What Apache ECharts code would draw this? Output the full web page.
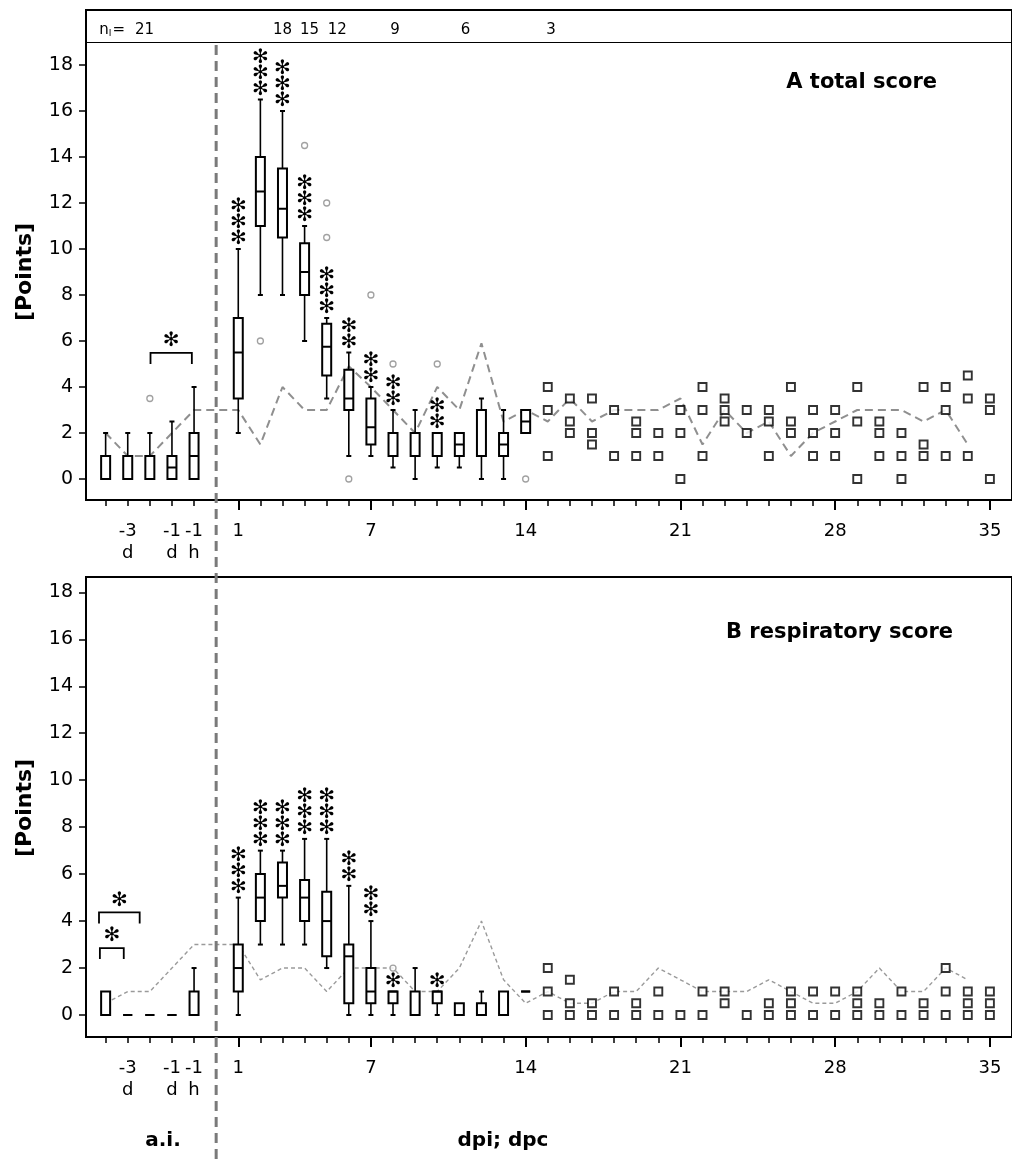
<!DOCTYPE html>
<html><head><meta charset="utf-8">
<script src="https://cdn.jsdelivr.net/npm/echarts@6/dist/echarts.min.js"></script>
<style>html,body{margin:0;padding:0;background:#fff}#c{width:1012px;height:1161px}</style>
</head><body><div id="c"></div>
<script>
// ================= DATA =================
// x positions: pre-infection slots -5..-1, days after infection 1..35
const preLabelPos = [-4, -2, -1];
const preLabels = ['-3\nd', '-1\nd', '-1\nh'];
const dayTicks = [1, 7, 14, 21, 28, 35];
const yTicks = [0, 2, 4, 6, 8, 10, 12, 14, 16, 18];

// ---- Panel A: total score ----
const boxPosA = [-5, -4, -3, -2, -1, 1, 2, 3, 4, 5, 6, 7, 8, 9, 10, 11, 12, 13, 14];
const boxMinA = [0, 0, 0, 0, 0, 2, 8, 8, 6, 3.5, 1, 1, 0.5, 0, 0.5, 0.5, 0, 0, 2];
const boxQ1A  = [0, 0, 0, 0, 0, 3.5, 11, 10.5, 8, 4.5, 3, 1.5, 1, 1, 1, 1, 1, 1, 2];
const boxMedA = [0, 0, 0, 0.5, 1, 5.5, 12.5, 11.75, 9, 5.75, 3.5, 2.25, 2, 1, 1, 1.5, 1, 1.5, 2.5];
const boxQ3A  = [1, 1, 1, 1, 2, 7, 14, 13.5, 10.25, 6.75, 4.75, 3.5, 2, 2, 2, 2, 3, 2, 3];
const boxMaxA = [2, 2, 2, 2.5, 4, 10, 16.5, 16, 11, 7, 5.5, 4, 3, 3, 2, 2, 3.5, 3, 3];
const sigA    = [0, 0, 0, 0, 0, 3, 3, 3, 3, 3, 2, 2, 2, 0, 2, 0, 0, 0, 0];
const outA = [[-3, 3.5], [2, 6], [4, 14.5], [5, 12], [5, 10.5], [6, 0], [7, 8], [8, 5], [10, 5], [14, 0]];
const sqDays = [15, 16, 17, 18, 19, 20, 21, 22, 23, 24, 25, 26, 27, 28, 29, 30, 31, 32, 33, 34, 35];
const sqValsA = [[4, 3, 1], [3.5, 2.5, 2], [3.5, 2, 1.5], [3, 1], [2.5, 2, 1], [2, 1], [3, 2, 0], [4, 3, 1],
  [3.5, 3, 2.5], [3, 2], [3, 2.5, 1], [4, 2.5, 2], [3, 2, 1], [3, 2, 1], [4, 2.5, 0], [2.5, 2, 1], [2, 1, 0],
  [4, 1.5, 1], [4, 3, 1], [4.5, 3.5, 1], [3.5, 3, 0]];
const lineX = [-5, -4, -3, -2, -1, 1, 2, 3, 4, 5, 6, 7, 8, 9, 10, 11, 12, 13, 14, 15, 16, 17, 18, 19, 20,
  21, 22, 23, 24, 25, 26, 27, 28, 29, 30, 31, 32, 33, 34];
const lineA = [2, 1, 1, 2, 3, 3, 1.5, 4, 3, 3, 4.9, 4, 3, 2, 4, 3, 5.9, 2.5, 3, 2.5, 3.5, 2.5, 3, 3, 3,
  3.5, 1.5, 3, 2, 2.5, 1, 2, 2.5, 3, 3, 3, 2.5, 3, 1.5];
const bracketsA = [[-2.97, -1.1, 5.48]];
const niPos = [-3.24, 3, 4.22, 5.48, 8.09, 11.28, 15.15];
const niText = ['21', '18', '15', '12', '9', '6', '3'];

// ---- Panel B: respiratory score ----
const boxPosB = [-5, -4, -3, -2, -1, 1, 2, 3, 4, 5, 6, 7, 8, 9, 10, 11, 12, 13, 14];
const boxMinB = [0, 0, 0, 0, 0, 0, 3, 3, 3, 2, 0, 0, 0, 0, 0, 0, 0, 0, 1];
const boxQ1B  = [0, 0, 0, 0, 0, 1, 4, 5, 4, 2.5, 0.5, 0.5, 0.5, 0, 0.5, 0, 0, 0, 1];
const boxMedB = [0, 0, 0, 0, 0, 2, 5, 5.5, 5, 4, 2.5, 1, 1, 0, 1, 0, 0, 0, 1];
const boxQ3B  = [1, 0, 0, 0, 1, 3, 6, 6.5, 5.75, 5.25, 3, 2, 1, 1, 1, 0.5, 0.5, 1, 1];
const boxMaxB = [1, 0, 0, 0, 2, 5, 7, 7, 7.5, 7.5, 5.5, 4, 1, 2, 1, 0.5, 1, 1, 1];
const sigB    = [0, 0, 0, 0, 0, 3, 3, 3, 3, 3, 2, 2, 1, 0, 1, 0, 0, 0, 0];
const outB = [[8, 2]];
const sqValsB = [[2, 1, 0], [1.5, 0.5, 0], [0.5, 0], [1, 0], [0.5, 0], [1, 0], [0], [1, 0], [1, 0.5], [0],
  [0.5, 0], [1, 0.5, 0], [1, 0], [1, 0], [1, 0.5, 0], [0.5, 0], [1, 0], [0.5, 0], [2, 1, 0], [1, 0.5, 0], [1, 0.5, 0]];
const lineB = [0.5, 1, 1, 2, 3, 3, 1.5, 2, 2, 1, 2, 2, 2, 1, 1, 2, 4, 1.5, 0.5, 1, 0.5, 0.5, 1, 1, 2,
  1.5, 1, 1, 1, 1.5, 1, 0.5, 0.5, 1, 2, 1, 1, 2, 1.5];
const bracketsB = [[-5.30, -3.46, 4.37], [-5.26, -4.18, 2.85]];

// ================= CHART =================
const FONT = 'DejaVu Sans';
const STAR = '\u273B';
const X_MIN = -5.888, X_MAX = 36.0;
const NI_Y = 19.52, NI_LINE = 18.97;

const chart = echarts.init(document.getElementById('c'), null, { renderer: 'canvas' });

function boxRows(p, a, b, c, d, e, s) { return p.map((x, i) => [x, a[i], b[i], c[i], d[i], e[i], s[i]]); }
function sqRows(vals) { const r = []; sqDays.forEach((d, i) => vals[i].forEach(v => r.push([d, v]))); return r; }
function lineRows(vals) { return lineX.map((x, i) => [x, vals[i]]); }

function starText(x, y) {
  return { type: 'text', x: x, y: y, style: { text: STAR, fill: '#000', font: 'bold 20px "' + FONT + '"', align: 'center', verticalAlign: 'middle' } };
}

function renderBox(params, api) {
  const x = api.value(0), sig = api.value(6);
  const ys = [1, 2, 3, 4, 5].map(i => api.coord([x, api.value(i)])[1]);
  const cx = api.coord([x, 0])[0];
  const yMin = ys[0], yQ1 = ys[1], yMed = ys[2], yQ3 = ys[3], yMax = ys[4];
  const hw = 4.5, cw = 2.5;
  const ws = { stroke: '#000', lineWidth: 1.6 };
  const ch = [];
  if (yMax < yQ3 - 0.5) {
    ch.push({ type: 'line', shape: { x1: cx, y1: yQ3, x2: cx, y2: yMax }, style: ws });
    ch.push({ type: 'line', shape: { x1: cx - cw, y1: yMax, x2: cx + cw, y2: yMax }, style: { stroke: '#000', lineWidth: 2 } });
  }
  if (yMin > yQ1 + 0.5) {
    ch.push({ type: 'line', shape: { x1: cx, y1: yQ1, x2: cx, y2: yMin }, style: ws });
    ch.push({ type: 'line', shape: { x1: cx - cw, y1: yMin, x2: cx + cw, y2: yMin }, style: { stroke: '#000', lineWidth: 2 } });
  }
  ch.push({ type: 'rect', shape: { x: cx - hw, y: yQ3, width: 2 * hw, height: Math.max(yQ1 - yQ3, 0) }, style: { fill: '#fff', stroke: '#000', lineWidth: 2 } });
  ch.push({ type: 'line', shape: { x1: cx - hw, y1: yMed, x2: cx + hw, y2: yMed }, style: { stroke: '#000', lineWidth: 2 } });
  for (let i = 0; i < sig; i++) ch.push(starText(cx, yMax - 10 - i * 16));
  return { type: 'group', children: ch };
}

function renderBracket(params, api) {
  const a = api.coord([api.value(0), api.value(2)]);
  const b = api.coord([api.value(1), api.value(2)]);
  const leg = 11;
  return { type: 'group', children: [
    { type: 'polyline', shape: { points: [[a[0], a[1] + leg], [a[0], a[1]], [b[0], b[1]], [b[0], b[1] + leg]] }, style: { stroke: '#000', lineWidth: 1.8, fill: null } },
    starText((a[0] + b[0]) / 2, a[1] - 12)
  ] };
}

function renderNi(params, api) {
  const p = api.coord([api.value(0), NI_Y]);
  return { type: 'text', x: p[0], y: p[1], style: { text: niText[api.value(1)], fill: '#000', font: '15px "' + FONT + '"', align: 'center', verticalAlign: 'middle' } };
}

const xTickAll = [];
for (let i = -5; i <= 35; i++) if (i !== 0) xTickAll.push(i);
const labelMap = {};
preLabelPos.forEach((p, i) => labelMap[p] = preLabels[i]);

function xAxesFor(gi) {
  return [
    { type: 'value', gridIndex: gi, min: X_MIN, max: X_MAX, position: 'bottom',
      axisLine: { show: false, onZero: false }, splitLine: { show: false },
      axisTick: { show: true, customValues: xTickAll, length: 6, lineStyle: { color: '#000', width: 1.5 } },
      axisLabel: { show: false } },
    { type: 'value', gridIndex: gi, min: X_MIN, max: X_MAX, position: 'bottom',
      axisLine: { show: false, onZero: false }, splitLine: { show: false },
      axisTick: { show: true, customValues: dayTicks, length: 10, lineStyle: { color: '#000', width: 2 } },
      axisLabel: { show: true, customValues: preLabelPos.concat(dayTicks), fontFamily: FONT, fontSize: 18, color: '#000',
        lineHeight: 22, margin: 20, formatter: v => (labelMap[v] !== undefined ? labelMap[v] : String(v)) } }
  ];
}
function yAxisFor(gi, mn, mx) {
  return { type: 'value', gridIndex: gi, min: mn, max: mx,
    axisLine: { show: true, onZero: false, lineStyle: { color: '#000', width: 2 } }, splitLine: { show: false },
    axisTick: { show: true, customValues: yTicks, length: 7, lineStyle: { color: '#000', width: 1.5 } },
    axisLabel: { show: true, customValues: yTicks, fontFamily: FONT, fontSize: 19, color: '#000', margin: 13 } };
}

function panelSeries(xi, yi, boxes, outs, sqs, line, brackets, lineStyle, extra) {
  const s = [
    { type: 'line', xAxisIndex: xi, yAxisIndex: yi, data: line, symbol: 'none', silent: true, z: 2,
      lineStyle: lineStyle, markLine: extra },
    { type: 'custom', xAxisIndex: xi, yAxisIndex: yi, renderItem: renderBox, data: boxes, z: 3,
      encode: { x: 0, y: [1, 2, 3, 4, 5] } },
    { type: 'scatter', xAxisIndex: xi, yAxisIndex: yi, data: sqs, symbol: 'rect', symbolSize: 8, z: 4,
      itemStyle: { color: '#fff', borderColor: '#000', borderWidth: 1.9 } },
    { type: 'scatter', xAxisIndex: xi, yAxisIndex: yi, data: outs, symbol: 'circle', symbolSize: 6, z: 4,
      itemStyle: { color: '#fff', borderColor: '#8a8a8a', borderWidth: 1.3 } },
    { type: 'custom', xAxisIndex: xi, yAxisIndex: yi, renderItem: renderBracket, data: brackets, z: 4 }
  ];
  if (!extra) delete s[0].markLine;
  return s;
}

const seriesA = panelSeries(0, 0, boxRows(boxPosA, boxMinA, boxQ1A, boxMedA, boxQ3A, boxMaxA, sigA), outA,
  sqRows(sqValsA), lineRows(lineA), bracketsA, { color: '#8f8f8f', width: 2, type: [8, 5] },
  { silent: true, symbol: ['none', 'none'], label: { show: false }, data: [{ yAxis: NI_LINE }],
    lineStyle: { color: '#000', width: 1, type: 'solid' } });
const seriesB = panelSeries(2, 1, boxRows(boxPosB, boxMinB, boxQ1B, boxMedB, boxQ3B, boxMaxB, sigB), outB,
  sqRows(sqValsB), lineRows(lineB), bracketsB, { color: '#9a9a9a', width: 1.4, type: [4, 3] }, null);
const niSeries = { type: 'custom', xAxisIndex: 0, yAxisIndex: 0, renderItem: renderNi,
  data: niPos.map((x, i) => [x, i]), z: 5 };

chart.setOption({
  animation: false,
  backgroundColor: '#fff',
  textStyle: { fontFamily: FONT },
  grid: [
    { left: 86, top: 10, right: -6, height: 490, show: true, borderColor: '#000', borderWidth: 2, backgroundColor: 'transparent' },
    { left: 86, top: 577, right: -6, height: 460, show: true, borderColor: '#000', borderWidth: 2, backgroundColor: 'transparent' }
  ],
  xAxis: xAxesFor(0).concat(xAxesFor(1)),
  yAxis: [yAxisFor(0, -0.913, 20.391), yAxisFor(1, -0.937, 18.654)],
  series: seriesA.concat(seriesB, [niSeries])
});

// annotations: vertical dashed separator at x = 0, titles, axis names
const x0 = chart.convertToPixel({ xAxisIndex: 0 }, 0);
const pN = chart.convertToPixel({ xAxisIndex: 0, yAxisIndex: 0 }, [-4.12, NI_Y]);
const bold = s => 'bold ' + s + 'px "' + FONT + '"';
chart.setOption({
  graphic: [
    { type: 'line', z: 100, shape: { x1: x0, y1: 45, x2: x0, y2: 1161 }, style: { stroke: '#7a7a7a', lineWidth: 3, lineDash: [10, 6] } },
    { type: 'text', x: pN[0], y: pN[1], style: { text: '=', font: '15px "' + FONT + '"', fill: '#000', align: 'right', verticalAlign: 'middle' } },
    { type: 'text', x: pN[0] - 15, y: pN[1] + 4, style: { text: 'I', font: '9px "' + FONT + '"', fill: '#000', align: 'center', verticalAlign: 'middle' } },
    { type: 'text', x: pN[0] - 21, y: pN[1], style: { text: 'n', font: '15px "' + FONT + '"', fill: '#000', align: 'center', verticalAlign: 'middle' } },
    { type: 'text', x: 937, y: 83, style: { text: 'A total score', font: bold(21), fill: '#000', align: 'right', verticalAlign: 'middle' } },
    { type: 'text', x: 953, y: 633, style: { text: 'B respiratory score', font: bold(21), fill: '#000', align: 'right', verticalAlign: 'middle' } },
    { type: 'text', x: 25, y: 272, rotation: Math.PI / 2, style: { text: '[Points]', font: bold(22), fill: '#000', align: 'center', verticalAlign: 'middle' } },
    { type: 'text', x: 25, y: 808, rotation: Math.PI / 2, style: { text: '[Points]', font: bold(22), fill: '#000', align: 'center', verticalAlign: 'middle' } },
    { type: 'text', x: 163, y: 1141, style: { text: 'a.i.', font: bold(20), fill: '#000', align: 'center', verticalAlign: 'middle' } },
    { type: 'text', x: 503, y: 1141, style: { text: 'dpi; dpc', font: bold(20), fill: '#000', align: 'center', verticalAlign: 'middle' } }
  ]
});
</script>
</body></html>
